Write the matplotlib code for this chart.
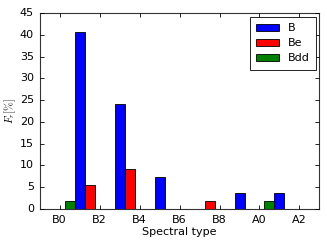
import numpy as np
import matplotlib
matplotlib.use('Agg')
import matplotlib.pyplot as plt

# fraccion (%) por bin de tipo espectral, bins centrados en B1, B3, ..., A1
centros = np.array([1, 3, 5, 7, 9, 11])
frac_B = [40.74, 24.07, 7.41, 0.0, 3.70, 3.70]
frac_Be = [5.56, 9.26, 0.0, 1.85, 0.0, 0.0]
frac_Bdd = [1.85, 0.0, 0.0, 0.0, 0.0, 1.85]

tick_pos = [0, 2, 4, 6, 8, 10, 12]
tick_lab = ['B0', 'B2', 'B4', 'B6', 'B8', 'A0', 'A2']

plt.style.use('classic')
plt.rcParams['mathtext.fontset'] = 'cm'

fig = plt.figure(figsize=(3.27, 2.45), dpi=100)
ax = fig.add_subplot(111)
fig.subplots_adjust(left=0.121, right=0.977, top=0.946, bottom=0.147)

w = 0.5
ax.bar(centros, frac_B, width=w, color='b', edgecolor='k', linewidth=0.6, label='B')
ax.bar(centros + w, frac_Be, width=w, color='r', edgecolor='k', linewidth=0.6, label='Be')
ax.bar(centros - w, frac_Bdd, width=w, color='g', edgecolor='k', linewidth=0.6, label='Bdd')

ax.set_xlim(-1, 13)
ax.set_ylim(0, 45)
ax.set_xticks(tick_pos)
ax.set_xticklabels(tick_lab)
ax.tick_params(labelsize=8, length=3, width=0.6)
for s in ax.spines.values():
    s.set_linewidth(0.8)
    s.set_color('#333333')

ax.set_xlabel('Spectral type', fontsize=8, labelpad=2)
ax.set_ylabel(r'$F_r [\%]$', fontsize=7.5, labelpad=1)

leg = ax.legend(loc='upper right', fontsize=8, handlelength=2.0, handleheight=0.6,
                borderpad=0.6, labelspacing=0.45, borderaxespad=0.3)
leg.get_frame().set_linewidth(0.6)

fig.savefig('out.png', dpi=100)
